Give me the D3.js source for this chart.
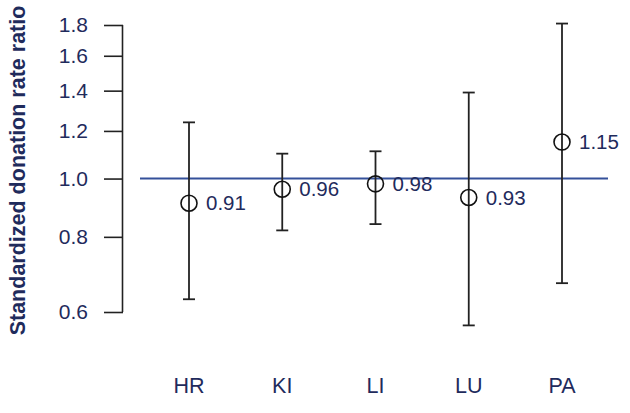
<!DOCTYPE html>
<html>
<head>
<meta charset="utf-8">
<script src="https://cdn.jsdelivr.net/npm/d3@7"></script>
<style>
  body { margin: 0; background: #fff; }
  svg { display: block; font-family: "Liberation Sans", Arial, sans-serif; }
</style>
</head>
<body>
<div id="chart"></div>
<script>
const categories = ["HR", "KI", "LI", "LU", "PA"];
const ratios = [0.91, 0.96, 0.98, 0.93, 1.15];
const lower = [0.63, 0.82, 0.84, 0.57, 0.67];
const upper = [1.24, 1.10, 1.11, 1.39, 1.81];
const yTicks = [0.6, 0.8, 1.0, 1.2, 1.4, 1.6, 1.8];

const width = 630, height = 413;
const textColor = "#1f2b5c";

const svg = d3.select("#chart").append("svg")
  .attr("width", width)
  .attr("height", height);

const x = d3.scalePoint()
  .domain(categories)
  .range([189, 562]);

const y = d3.scaleLog()
  .domain([0.6, 1.8])
  .range([312, 25]);

// y axis
const yAxis = svg.append("g")
  .attr("transform", "translate(123,0)")
  .call(d3.axisLeft(y).tickValues(yTicks).tickFormat(d3.format(".1f")).tickSize(19).tickPadding(16));
yAxis.select(".domain").attr("d", `M-0.5,${y(0.6)}V${y(1.8)}`).attr("stroke", "#222").attr("stroke-width", 1.6);
yAxis.selectAll(".tick line").attr("stroke", "#222").attr("stroke-width", 1.6);
yAxis.selectAll(".tick text")
  .attr("fill", textColor)
  .attr("font-size", "21px");

svg.append("text")
  .attr("transform", `translate(25,${(y(0.6) + y(1.8)) / 2 + 2}) rotate(-90)`)
  .attr("text-anchor", "middle")
  .attr("font-size", "21.5px")
  .attr("font-weight", "bold")
  .attr("fill", textColor)
  .text("Standardized donation rate ratio");

// reference line at 1.0
svg.append("line")
  .attr("x1", 140).attr("x2", 608)
  .attr("y1", y(1)).attr("y2", y(1))
  .attr("stroke", "#34509a")
  .attr("stroke-width", 2);

const data = categories.map((c, i) => ({ c, r: ratios[i], lo: lower[i], hi: upper[i] }));

const g = svg.selectAll(".pt").data(data).enter().append("g").attr("class", "pt");

g.append("line")
  .attr("x1", d => x(d.c)).attr("x2", d => x(d.c))
  .attr("y1", d => y(d.lo)).attr("y2", d => y(d.hi))
  .attr("stroke", "#222").attr("stroke-width", 1.8);

g.append("line")
  .attr("x1", d => x(d.c) - 6).attr("x2", d => x(d.c) + 6)
  .attr("y1", d => y(d.hi)).attr("y2", d => y(d.hi))
  .attr("stroke", "#222").attr("stroke-width", 1.8);

g.append("line")
  .attr("x1", d => x(d.c) - 6).attr("x2", d => x(d.c) + 6)
  .attr("y1", d => y(d.lo)).attr("y2", d => y(d.lo))
  .attr("stroke", "#222").attr("stroke-width", 1.8);

g.append("circle")
  .attr("cx", d => x(d.c))
  .attr("cy", d => y(d.r))
  .attr("r", 8)
  .attr("fill", "none")
  .attr("stroke", "#111")
  .attr("stroke-width", 1.6);

g.append("text")
  .attr("x", d => x(d.c) + 17)
  .attr("y", d => y(d.r) + 7)
  .attr("font-size", "20.5px")
  .attr("fill", textColor)
  .text(d => d3.format(".2f")(d.r));

// category labels
svg.selectAll(".cat").data(categories).enter().append("text")
  .attr("class", "cat")
  .attr("x", d => x(d))
  .attr("y", 393)
  .attr("text-anchor", "middle")
  .attr("font-size", "21.5px")
  .attr("fill", textColor)
  .text(d => d);
</script>
</body>
</html>
